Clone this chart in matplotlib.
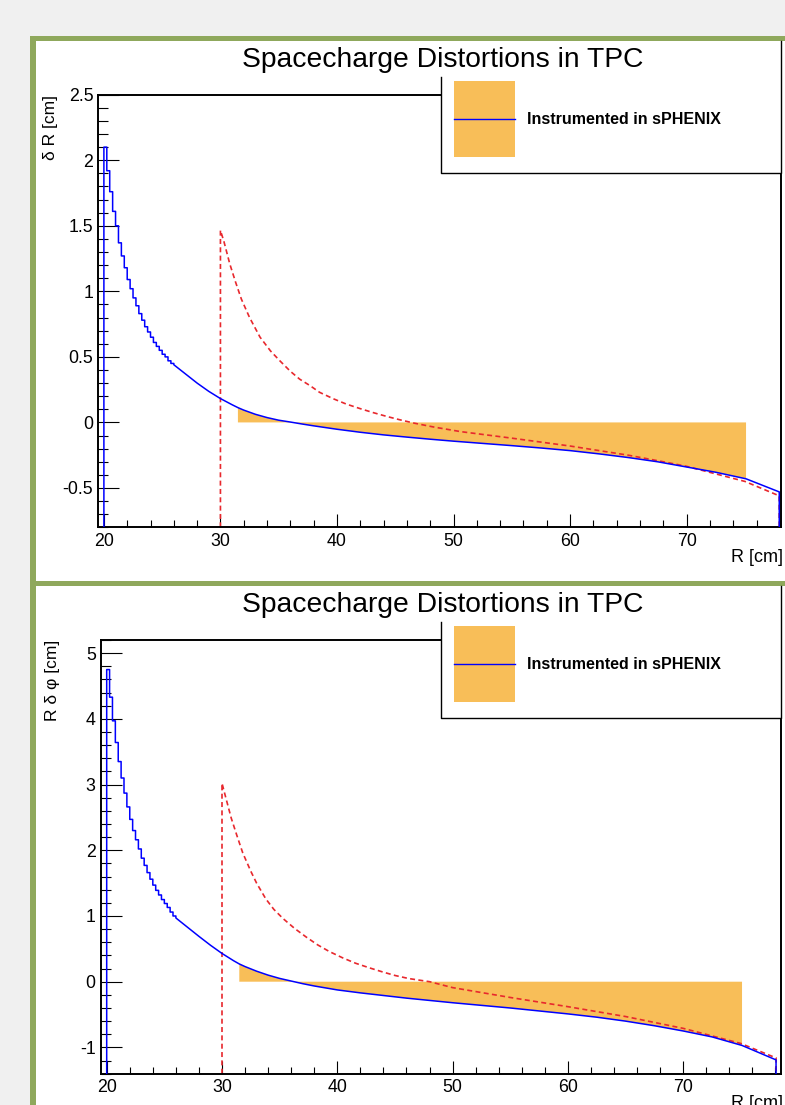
import numpy as np
import matplotlib.pyplot as plt
from matplotlib.patches import Rectangle
from matplotlib.ticker import MultipleLocator, FuncFormatter

plt.rcParams['font.family'] = ['Liberation Sans', 'DejaVu Sans']
plt.rcParams['axes.unicode_minus'] = False

######### data ##########
bin_w = 0.25          # histogram bin width [cm]
r_start = 20.0

# top pad: delta R, blue histogram, one value per bin at the steep start
dR_bins = [2.10, 1.92, 1.76, 1.61, 1.50, 1.37, 1.27, 1.18, 1.09, 1.02, 0.95, 0.89,
           0.83, 0.78, 0.73, 0.69, 0.65, 0.61, 0.58, 0.55, 0.52, 0.50, 0.47, 0.45]
# ... and the smooth remainder
dR_r = [26.0, 26.5, 27.0, 28.0, 29.0, 30.0, 31.0, 31.5, 32.0, 33.0, 34.0, 35.0, 36.0,
        37.0, 38.0, 39.0, 40.0, 42.0, 44.0, 46.0, 48.0, 50.0, 52.5, 55.0, 57.5, 60.0,
        62.5, 65.0, 67.5, 70.0, 72.5, 75.1, 77.95]
dR_blue = [0.44, 0.405, 0.37, 0.30, 0.237, 0.182, 0.135, 0.113, 0.094, 0.062, 0.037,
           0.017, 0.003, -0.012, -0.026, -0.039, -0.052, -0.075, -0.095, -0.112,
           -0.128, -0.143, -0.16, -0.177, -0.195, -0.215, -0.24, -0.268, -0.3, -0.34,
           -0.38, -0.43, -0.53]
# red dashed (starts at R = 30)
dR_red_r = [30.0, 30.3, 30.8, 31.3, 31.8, 32.5, 33.4, 34.3, 35.1, 36.0, 36.8, 37.7,
            38.5, 39.7, 40.8, 42.0, 43.1, 44.3, 45.4, 46.6, 48.3, 50.6, 55.0, 60.0,
            65.0, 68.0, 70.0, 75.0, 77.95]
dR_red = [1.465, 1.38, 1.21, 1.07, 0.94, 0.80, 0.65, 0.545, 0.47, 0.39, 0.33, 0.28,
          0.23, 0.18, 0.14, 0.105, 0.075, 0.045, 0.02, -0.005, -0.035, -0.07, -0.12, -0.18,
          -0.25, -0.30, -0.335, -0.45, -0.56]

# bottom pad: R delta phi
Rdphi_bins = [4.75, 4.33, 3.97, 3.64, 3.35, 3.10, 2.87, 2.66, 2.47, 2.30, 2.16, 2.02,
              1.88, 1.77, 1.66, 1.56, 1.47, 1.39, 1.32, 1.25, 1.19, 1.13, 1.06, 1.00]
Rdphi_r = [26.0, 26.5, 27.0, 28.0, 29.0, 30.0, 31.0, 31.5, 32.0, 33.0, 34.0, 35.0,
           36.0, 37.0, 38.0, 39.0, 40.0, 42.0, 44.0, 46.0, 48.0, 50.0, 52.5, 55.0,
           57.5, 60.0, 62.5, 65.0, 67.5, 70.0, 72.5, 75.1, 78.05]
Rdphi_blue = [0.97, 0.90, 0.83, 0.69, 0.555, 0.43, 0.32, 0.27, 0.23, 0.16, 0.10, 0.05,
              0.01, -0.03, -0.065, -0.095, -0.125, -0.17, -0.21, -0.25, -0.285, -0.32,
              -0.36, -0.40, -0.445, -0.49, -0.54, -0.60, -0.67, -0.75, -0.84, -0.97,
              -1.19]
Rdphi_red_r = [30.0, 30.3, 30.8, 31.3, 31.8, 32.5, 33.0, 33.8, 34.5, 35.3, 36.3, 37.3,
               38.3, 39.3, 40.5, 41.6, 42.8, 43.9, 45.0, 46.2, 48.0, 50.0, 55.0, 60.0,
               65.0, 70.0, 75.0, 78.05]
Rdphi_red = [3.02, 2.82, 2.49, 2.22, 1.96, 1.68, 1.50, 1.26, 1.10, 0.96, 0.81, 0.68,
             0.56, 0.46, 0.36, 0.28, 0.21, 0.15, 0.095, 0.048, 0.0, -0.09, -0.24, -0.38,
             -0.53, -0.71, -0.94, -1.16]

instr_range = (31.5, 75.1)
title = 'Spacecharge Distortions in TPC'
legend_label = 'Instrumented in sPHENIX'
######### data ##########

blue = '#0000ff'
red = '#e8282d'
orange = '#f8be58'
green = '#8fa85c'

fig = plt.figure(figsize=(7.85, 11.05), dpi=100, facecolor='#f0f0f0')

# background: the two canvas pads with green frame (pixel coordinates)
bg = fig.add_axes([0, 0, 1, 1])
bg.set_xlim(0, 785)
bg.set_ylim(1105, 0)
bg.axis('off')
bg.add_patch(Rectangle((30, 36), 800, 1100, facecolor=green, edgecolor='none'))
bg.add_patch(Rectangle((35.5, 41), 800, 540, facecolor='white', edgecolor='none'))
bg.add_patch(Rectangle((35.5, 586), 800, 540, facecolor='white', edgecolor='none'))


def fmt(v, pos):
    return '%g' % v


def draw_pad(rect, xlim, ylim, ymaj, ymin_, bins, r, v, red_r, red_v):
    ax = fig.add_axes(rect)
    ax.patch.set_alpha(0)
    ax.set_xlim(*xlim)
    ax.set_ylim(*ylim)
    lo = ylim[0]

    edges = r_start + bin_w * np.arange(len(bins) + 1)
    xs = np.concatenate([[edges[0]], np.repeat(edges, 2)[1:-1], r, [r[-1]]])
    ys = np.concatenate([[lo], np.repeat(bins, 2), v, [lo]])

    r = np.array(r)
    v = np.array(v)
    m = (r >= instr_range[0]) & (r <= instr_range[1])
    ax.fill_between(r[m], v[m], 0, facecolor=orange, edgecolor='none', zorder=1)

    rx = np.concatenate([[red_r[0]], red_r, [red_r[-1]]])
    ry = np.concatenate([[lo], red_v, [lo]])
    ax.plot(rx, ry, color=red, lw=1.2, dashes=(3, 2), zorder=2)
    ax.plot(xs, ys, color=blue, lw=1.1, zorder=3)

    ax.xaxis.set_major_locator(MultipleLocator(10))
    ax.xaxis.set_minor_locator(MultipleLocator(2))
    ax.yaxis.set_major_locator(MultipleLocator(ymaj))
    ax.yaxis.set_minor_locator(MultipleLocator(ymin_))
    ax.xaxis.set_major_formatter(FuncFormatter(fmt))
    ax.yaxis.set_major_formatter(FuncFormatter(fmt))
    ax.tick_params(which='both', direction='in', top=False, right=False,
                   labelsize=12.8, width=0.8, color='black')
    ax.tick_params(axis='y', which='major', length=15, pad=3.6)
    ax.tick_params(axis='y', which='minor', length=7.5)
    ax.tick_params(axis='x', which='major', length=9.7, pad=4)
    ax.tick_params(axis='x', which='minor', length=4.8)
    for s in ax.spines.values():
        s.set_linewidth(1.4)
    return ax


W, H = 785.0, 1105.0
# top pad axes: x 98.3..781, y 94.7..527.3 px
draw_pad([98.3 / W, 1 - 527.3 / H, (781 - 98.3) / W, (527.3 - 94.7) / H],
         (19.52, 78.1), (-0.8, 2.5), 0.5, 0.1,
         dR_bins, dR_r, dR_blue, dR_red_r, dR_red)
# bottom pad axes: x 100.7..781, y 640..1073.7 px
draw_pad([100.7 / W, 1 - 1073.7 / H, (781 - 100.7) / W, (1073.7 - 640) / H],
         (19.48, 78.48), (-1.4, 5.2), 1, 0.2,
         Rdphi_bins, Rdphi_r, Rdphi_blue, Rdphi_red_r, Rdphi_red)

# overlay: titles, legends, axis titles (pixel coordinates)
ov = fig.add_axes([0, 0, 1, 1])
ov.set_xlim(0, 785)
ov.set_ylim(1105, 0)
ov.axis('off')

for dy, ylab in [(0, 'δ R [cm]'), (545.3, 'R δ φ [cm]')]:
    # legend box (its top part sits under the title box)
    ov.add_patch(Rectangle((441, 41 + dy), 340, 132, facecolor='white', edgecolor='none'))
    ov.plot([441, 441, 781, 781], [77 + dy, 173 + dy, 173 + dy, 41 + dy],
            color='black', lw=1.0)
    ov.add_patch(Rectangle((454, 81 + dy), 61, 76, facecolor=orange, edgecolor='none'))
    ov.plot([454, 515], [119 + dy, 119 + dy], color=blue, lw=1.0)
    ov.text(527, 119.5 + dy, legend_label, fontsize=11.5, fontweight='bold',
            ha='left', va='center')
    ov.text(442.5, 66.7 + dy, title, fontsize=20.3, ha='center', va='baseline')
    # axis titles
    ov.text(50.5 + (2 if dy else 0), 94.7 + dy, ylab, fontsize=12.5, rotation=90,
            ha='center', va='top')
    ov.text(783, 558 + dy, 'R [cm]', fontsize=13, ha='right', va='center')

fig.savefig('out.png', dpi=100, facecolor=fig.get_facecolor())
